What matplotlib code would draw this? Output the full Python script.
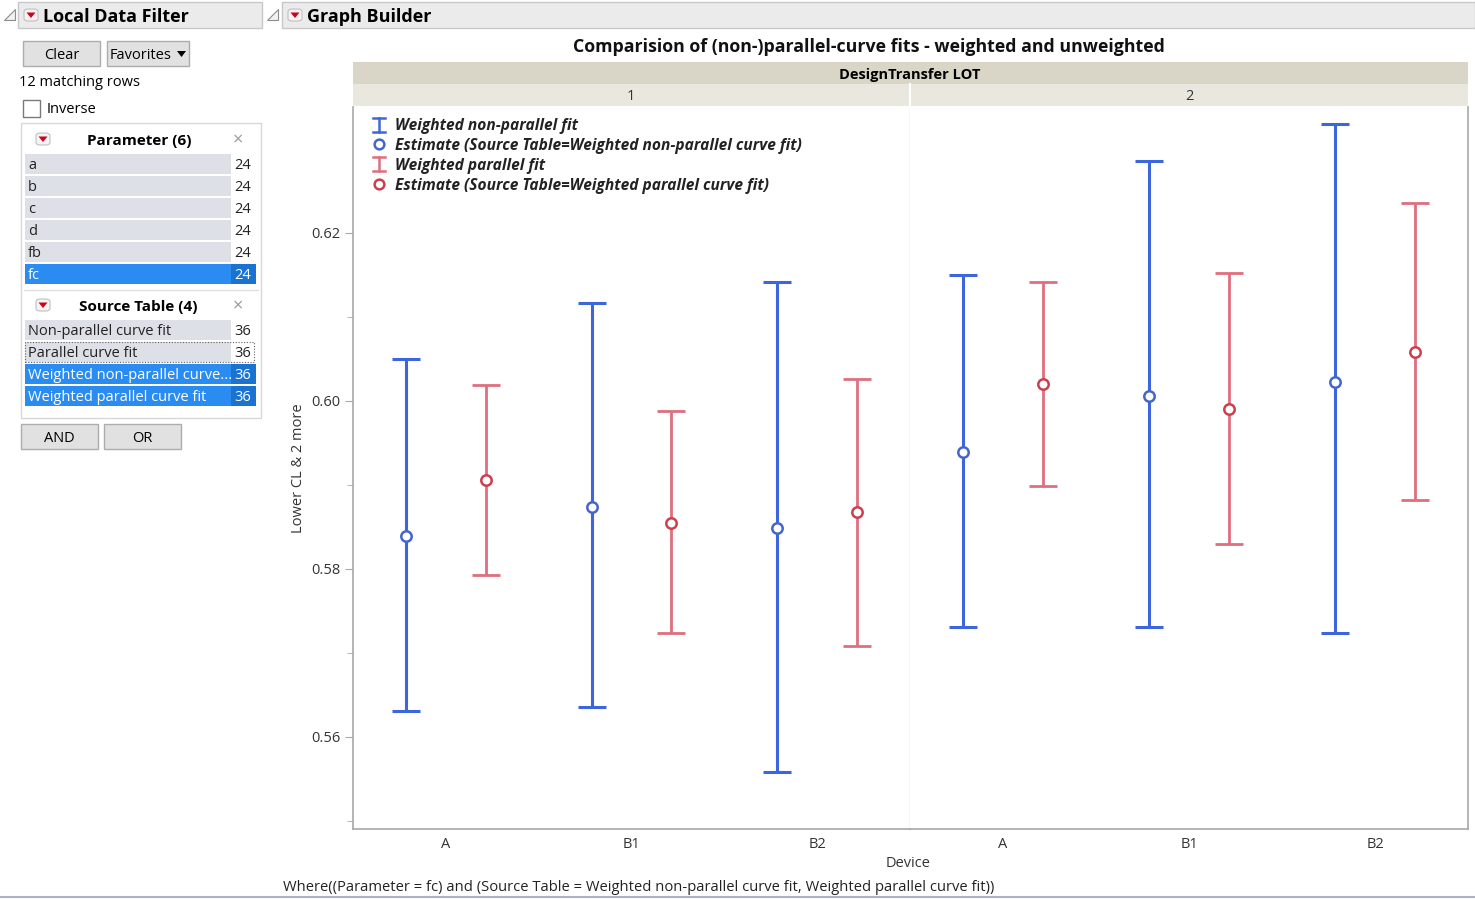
import matplotlib
matplotlib.use("Agg")
import matplotlib.pyplot as plt
from matplotlib.patches import Rectangle, FancyBboxPatch, Polygon
from matplotlib.lines import Line2D

plt.rcParams['font.family'] = ['Open Sans', 'DejaVu Sans']

# ---------------- data ----------------
devices = ["A", "B1", "B2"]
lots = ["1", "2"]
# Weighted non-parallel curve fit (per lot: A, B1, B2)
wnp_lower = [[0.5631, 0.5635, 0.5558], [0.5731, 0.5731, 0.5723]]
wnp_est = [[0.5839, 0.5874, 0.5848], [0.5939, 0.6006, 0.6023]]
wnp_upper = [[0.6050, 0.6117, 0.6142], [0.6150, 0.6286, 0.6330]]
# Weighted parallel curve fit
wp_lower = [[0.5793, 0.5723, 0.5708], [0.5898, 0.5830, 0.5882]]
wp_est = [[0.5906, 0.5855, 0.5867], [0.6020, 0.5990, 0.6058]]
wp_upper = [[0.6019, 0.5988, 0.6026], [0.6142, 0.6152, 0.6236]]

param_items = ["a", "b", "c", "d", "fb", "fc"]
param_counts = [24, 24, 24, 24, 24, 24]
source_items = ["Non-parallel curve fit", "Parallel curve fit",
                "Weighted non-parallel curve...", "Weighted parallel curve fit"]
source_counts = [36, 36, 36, 36]
yticks = [0.56, 0.58, 0.60, 0.62]
yminor = [0.55, 0.57, 0.59, 0.61]

title = "Comparision of (non-)parallel-curve fits - weighted and unweighted"
legend_labels = ["Weighted non-parallel fit",
                 "Estimate (Source Table=Weighted non-parallel curve fit)",
                 "Weighted parallel fit",
                 "Estimate (Source Table=Weighted parallel curve fit)"]

BLUE = "#3d66dd"
BLUE_M = "#4466cc"
RED = "#df6f7e"
RED_M = "#c9404f"

W, H = 1475, 899
fig = plt.figure(figsize=(W / 100, H / 100), dpi=100)
fig.patch.set_facecolor("white")

DY = 1.5  # vertical text correction in px


def fx(x):
    return x / W


def fy(y):
    return 1 - y / H


def rect(x0, y0, x1, y1, fc, ec="none", lw=1, ls="-"):
    fig.patches.append(Rectangle((fx(x0), fy(y1)), fx(x1 - x0), (y1 - y0) / H,
                                 transform=fig.transFigure, facecolor=fc,
                                 edgecolor=ec, linewidth=lw, linestyle=ls))


def txt(x, y, s, size=10, ha="left", va="center", **kw):
    fig.text(fx(x), fy(y + DY), s, fontsize=size, ha=ha, va=va, **kw)


def red_icon(x, y):
    fig.patches.append(FancyBboxPatch((fx(x - 7), fy(y + 6)), fx(14), 12 / H,
                                      boxstyle="round,pad=0,rounding_size=0.003",
                                      transform=fig.transFigure, facecolor="#f4f4f4",
                                      edgecolor="#c0c0c0", linewidth=0.8))
    fig.patches.append(Polygon([(fx(x - 4.5), fy(y - 2.5)), (fx(x + 4.5), fy(y - 2.5)),
                                (fx(x), fy(y + 3))], closed=True,
                               transform=fig.transFigure, facecolor="#d0021b",
                               edgecolor="none"))


def disclosure(x, y):
    fig.patches.append(Polygon([(fx(x + 6), fy(y - 6)), (fx(x + 6), fy(y + 5)),
                                (fx(x - 5), fy(y + 5))], closed=True,
                               transform=fig.transFigure, facecolor="#f2f2f2",
                               edgecolor="#8c8c8c", linewidth=0.8))


# ---------------- left panel (Local Data Filter) ----------------
disclosure(9, 15)
rect(18, 2, 262, 28, "#ebebeb", "#c8c8c8")
red_icon(31, 15)
txt(43, 15, "Local Data Filter", 13, fontweight="bold")

rect(23, 41, 100, 66, "#e1e1e1", "#adadad")
txt(61.5, 54, "Clear", 10.5, ha="center")
rect(107, 41, 189, 66, "#e1e1e1", "#adadad")
txt(110, 54, "Favorites", 10.5)
fig.patches.append(Polygon([(fx(177), fy(51)), (fx(186), fy(51)), (fx(181.5), fy(57))],
                           closed=True, transform=fig.transFigure, facecolor="black"))
txt(19, 81, "12 matching rows", 10.5)
rect(23, 100, 40, 117, "white", "#7a7a7a")
txt(47, 108, "Inverse", 10.5)

rect(21, 123, 261, 418, "white", "#d8d8d8")
red_icon(43, 139)
txt(139, 139, "Parameter (6)", 11, ha="center", fontweight="bold")
txt(238, 139, "\u00d7", 13, ha="center", color="#9a9a9a")
for i, (name, cnt) in enumerate(zip(param_items, param_counts)):
    yc = 164 + 22 * i
    sel = name == "fc"
    rect(25, yc - 10, 231, yc + 10, "#2a8cf0" if sel else "#dde0e6")
    if sel:
        rect(231, yc - 10, 256, yc + 10, "#1a73d0")
    txt(28, yc, name, 10.5, color="white" if sel else "#222222")
    txt(234, yc, str(cnt), 10.5, color="white" if sel else "#222222")

fig.add_artist(Line2D([fx(24), fx(258)], [fy(290), fy(290)], color="#e0e0e0", lw=1))
red_icon(43, 305)
txt(138, 305, "Source Table (4)", 11, ha="center", fontweight="bold")
txt(238, 305, "\u00d7", 13, ha="center", color="#9a9a9a")
for i, (name, cnt) in enumerate(zip(source_items, source_counts)):
    yc = 330 + 22 * i
    sel = name.startswith("Weighted")
    if sel:
        rect(25, yc - 10, 231, yc + 10, "#2a8cf0")
        rect(231, yc - 10, 256, yc + 10, "#1a73d0")
    else:
        rect(25, yc - 10, 231, yc + 10, "#dde0e6")
    if i == 1:
        rect(25, yc - 10, 254, yc + 10, "none", "#606060", lw=0.8, ls=(0, (1, 1.5)))
    txt(28, yc, name, 10.5, color="white" if sel else "#222222")
    txt(234, yc, str(cnt), 10.5, color="white" if sel else "#222222")

rect(21, 424, 98, 449, "#e1e1e1", "#adadad")
txt(59.5, 437, "AND", 10.5, ha="center")
rect(104, 424, 181, 449, "#e1e1e1", "#adadad")
txt(142.5, 437, "OR", 10.5, ha="center")

# ---------------- Graph Builder header ----------------
disclosure(272, 15)
rect(282, 2, 1475, 28, "#ebebeb", "#c8c8c8")
red_icon(295, 15)
txt(307, 15, "Graph Builder", 13, fontweight="bold")

txt(869, 46, title, 12.8, ha="center", fontweight="bold", color="#111111")

# strips
rect(353, 62, 1468, 84, "#d9d6c7")
txt(910, 73, "DesignTransfer LOT", 10.5, ha="center", fontweight="bold")
rect(353, 84, 1468, 106, "#e9e7de")
fig.add_artist(Line2D([fx(910), fx(910)], [fy(84), fy(106)], color="white", lw=1.5))
txt(631, 95, lots[0], 10.5, ha="center", color="#333333")
txt(1189, 95, lots[1], 10.5, ha="center", color="#333333")

# ---------------- plot panels ----------------
ylim = (0.5490, 0.6350)
axes = []
for k in range(2):
    x0 = 353 if k == 0 else 910
    x1 = 910 if k == 0 else 1468
    ax = fig.add_axes([fx(x0), fy(829), fx(x1 - x0), (829 - 107) / H])
    axes.append(ax)
    xs = list(range(len(devices)))
    xb = [x - 0.215 for x in xs]
    xr = [x + 0.215 for x in xs]
    # blue: weighted non-parallel
    lo = [e - l for e, l in zip(wnp_est[k], wnp_lower[k])]
    hi = [u - e for e, u in zip(wnp_est[k], wnp_upper[k])]
    ax.errorbar(xb, wnp_est[k], yerr=[lo, hi], fmt="none", ecolor=BLUE,
                elinewidth=2.2, capsize=10, capthick=2.2, zorder=2)
    ax.plot(xb, wnp_est[k], "o", ms=7.5, mfc="white", mec=BLUE_M, mew=1.8,
            ls="none", zorder=3)
    lo = [e - l for e, l in zip(wp_est[k], wp_lower[k])]
    hi = [u - e for e, u in zip(wp_est[k], wp_upper[k])]
    ax.errorbar(xr, wp_est[k], yerr=[lo, hi], fmt="none", ecolor=RED,
                elinewidth=2.0, capsize=10, capthick=2.0, zorder=2)
    ax.plot(xr, wp_est[k], "o", ms=7.5, mfc="white", mec=RED_M, mew=1.8,
            ls="none", zorder=3)

    ax.set_xlim(-0.5, len(devices) - 0.5)
    ax.set_ylim(*ylim)
    ax.set_xticks(xs)
    ax.set_xticklabels(devices, fontsize=10.5, color="#333333")
    ax.tick_params(axis="x", length=0, pad=6)
    ax.spines["top"].set_visible(False)
    for s in ("left", "right", "bottom"):
        ax.spines[s].set_color("#a8a8a8")
        ax.spines[s].set_linewidth(1.2)
    if k == 0:
        ax.spines["right"].set_color("#d8d8d8")
        ax.spines["right"].set_linewidth(1.0)
        ax.set_yticks(yticks)
        ax.set_yticks(yminor, minor=True)
        ax.set_yticklabels([f"{v:.2f}" for v in yticks], fontsize=10.5, color="#333333")
        ax.tick_params(axis="y", which="major", length=6, color="#a8a8a8", pad=3)
        ax.tick_params(axis="y", which="minor", length=4, color="#a8a8a8")
        ax.set_ylabel("Lower CL & 2 more", fontsize=10.5, color="#333333", labelpad=4)
    else:
        ax.spines["left"].set_visible(False)
        ax.set_yticks([])

# legend (drawn in panel 1)
leg_y = [125, 144, 164, 184]
for i, lab in enumerate(legend_labels):
    yc = leg_y[i]
    col = BLUE if i < 2 else RED
    mcol = BLUE_M if i < 2 else RED_M
    if i % 2 == 0:
        fig.add_artist(Line2D([fx(379), fx(379)], [fy(yc - 7), fy(yc + 7)], color=col, lw=1.8))
        fig.add_artist(Line2D([fx(373), fx(385)], [fy(yc - 7), fy(yc - 7)], color=col, lw=1.8))
        fig.add_artist(Line2D([fx(373), fx(385)], [fy(yc + 7), fy(yc + 7)], color=col, lw=1.8))
    else:
        fig.add_artist(Line2D([fx(379)], [fy(yc)], marker="o", ms=7, mfc="white",
                              mec=mcol, mew=1.8, ls="none"))
    txt(395, yc, lab, 11.2, fontweight="bold", fontstyle="italic", color="#222222")

txt(908, 862, "Device", 10.5, ha="center", color="#333333")
txt(283, 886, "Where((Parameter = fc) and (Source Table = Weighted non-parallel curve fit, Weighted parallel curve fit))",
    10.6, color="#222222")
fig.add_artist(Line2D([0, 1], [fy(897), fy(897)], color="#a9b4c8", lw=1.5))

fig.savefig("out.png", dpi=100, facecolor="white")
